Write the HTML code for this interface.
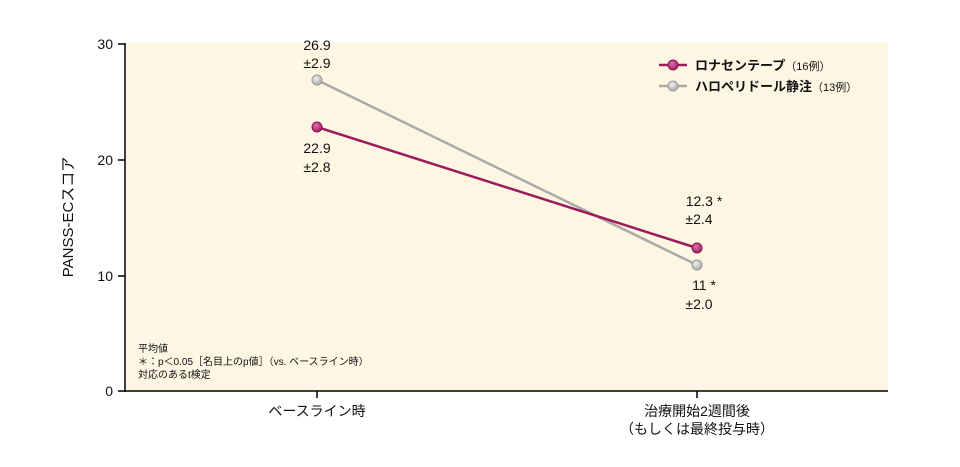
<!DOCTYPE html>
<html><head><meta charset="utf-8"><style>
body{margin:0;background:#fff;}
svg text{font-family:"Liberation Sans","Noto Sans CJK JP",sans-serif;fill:#111;}
</style></head><body>
<svg width="960" height="462" viewBox="0 0 960 462">
<defs>
<radialGradient id="gm" cx="0.4" cy="0.35" r="0.7"><stop offset="0" stop-color="#e070a8"/><stop offset="1" stop-color="#9a1a5a"/></radialGradient>
<radialGradient id="gg" cx="0.4" cy="0.35" r="0.7"><stop offset="0" stop-color="#f0f0f0"/><stop offset="1" stop-color="#a8a8a8"/></radialGradient>
</defs>
<rect x="126" y="43" width="762" height="348" fill="#fdf6e3"/>
<line x1="125" y1="43" x2="125" y2="392" stroke="#000" stroke-width="1.5"/>
<line x1="124" y1="391" x2="888" y2="391" stroke="#000" stroke-width="1.5"/>
<g stroke="#000" stroke-width="1.5">
<line x1="118" y1="44" x2="125" y2="44"/><line x1="118" y1="160" x2="125" y2="160"/>
<line x1="118" y1="276" x2="125" y2="276"/><line x1="118" y1="391" x2="125" y2="391"/>
<line x1="317" y1="391" x2="317" y2="398"/><line x1="697" y1="391" x2="697" y2="398"/>
</g>
<g font-size="14" text-anchor="end">
<text x="113" y="49">30</text><text x="113" y="165">20</text><text x="113" y="281">10</text><text x="113" y="396">0</text>
</g>
<text transform="translate(73,217) rotate(-90)" font-size="15" text-anchor="middle">PANSS-ECスコア</text>
<g font-size="14" text-anchor="middle">
<text x="317" y="416">ベースライン時</text>
<text x="697" y="416">治療開始2週間後</text>
<text x="697" y="434">（もしくは最終投与時）</text>
</g>
<line x1="317" y1="80" x2="697" y2="265" stroke="#aaa" stroke-width="2.5"/>
<line x1="317" y1="127" x2="697" y2="248" stroke="#9b1b5c" stroke-width="2.5"/>
<circle cx="317" cy="80" r="5" fill="url(#gg)" stroke="#999"/>
<circle cx="697" cy="265" r="5" fill="url(#gg)" stroke="#999"/>
<circle cx="317" cy="127" r="5" fill="url(#gm)" stroke="#8a1550"/>
<circle cx="697" cy="248" r="5" fill="url(#gm)" stroke="#8a1550"/>
<g font-size="14" text-anchor="middle">
<text x="317" y="50">26.9</text><text x="317" y="68">±2.9</text>
<text x="317" y="153">22.9</text><text x="317" y="172">±2.8</text>
<text x="704" y="206">12.3 *</text><text x="699" y="224">±2.4</text>
<text x="704" y="290">11 *</text><text x="699" y="309">±2.0</text>
</g>
<line x1="659" y1="65" x2="687" y2="65" stroke="#9b1b5c" stroke-width="2.5"/>
<circle cx="673" cy="65" r="5" fill="url(#gm)" stroke="#8a1550"/>
<line x1="659" y1="86" x2="687" y2="86" stroke="#aaa" stroke-width="2.5"/>
<circle cx="673" cy="86" r="5" fill="url(#gg)" stroke="#999"/>
<text x="695" y="70" font-size="13" font-weight="bold">ロナセンテープ<tspan font-weight="normal" font-size="11">（16例）</tspan></text>
<text x="695" y="91" font-size="13" font-weight="bold">ハロペリドール静注<tspan font-weight="normal" font-size="11">（13例）</tspan></text>
<g font-size="10">
<text x="138" y="352">平均値</text>
<text x="138" y="365">＊：p＜0.05［名目上のp値］（vs. ベースライン時）</text>
<text x="138" y="378">対応のあるt検定</text>
</g>
</svg>
</body></html>
